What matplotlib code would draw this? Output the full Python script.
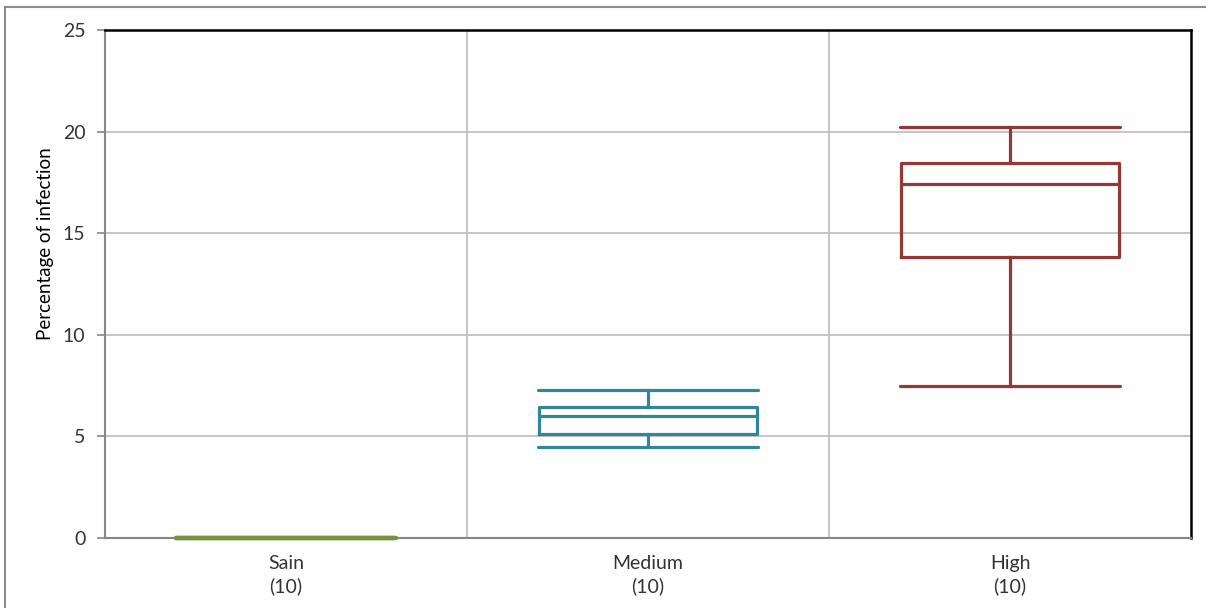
import matplotlib.pyplot as plt
from matplotlib.lines import Line2D

plt.rcParams['font.family'] = ['Lato', 'DejaVu Sans']

# 数据
categories = ['Sain', 'Medium', 'High']
counts = [10, 10, 10]
mins = [0.0, 4.5, 7.5]
q1s = [0.0, 5.1, 13.85]
medians = [0.0, 6.0, 17.4]
q3s = [0.0, 6.45, 18.45]
maxs = [0.0, 7.3, 20.25]
colors = ['#77933C', '#31859C', '#953735']
y_ticks = [0, 5, 10, 15, 20, 25]

fig = plt.figure(figsize=(12.11, 6.08), dpi=100)
ax = fig.add_axes([105 / 1211, 1 - 538 / 608, (1191 - 105) / 1211, (538 - 30) / 608])

stats = []
for i, cat in enumerate(categories):
    stats.append(dict(label=f'{cat}\n({counts[i]})', whislo=mins[i], q1=q1s[i],
                      med=medians[i], q3=q3s[i], whishi=maxs[i], fliers=[]))

for i, st in enumerate(stats):
    c = colors[i]
    lw = 2.3 if i > 0 else 3.0
    art = ax.bxp([st], positions=[i], widths=0.6, capwidths=0.61, showfliers=False,
                 boxprops=dict(color=c, linewidth=lw),
                 medianprops=dict(color=c, linewidth=lw),
                 whiskerprops=dict(color=c, linewidth=lw),
                 capprops=dict(color=c, linewidth=lw, solid_capstyle='round'))
    for key in ['boxes', 'medians', 'whiskers', 'caps']:
        for a in art[key]:
            a.set_clip_on(False)
            a.set_zorder(5)

ax.set_xlim(-0.5, 2.5)
ax.set_ylim(0, 25)
ax.set_yticks(y_ticks)
ax.set_xticks(range(len(categories)))
ax.set_xticklabels([f'{c}\n({n})' for c, n in zip(categories, counts)],
                   fontsize=14, color='#333333', linespacing=1.4)
ax.tick_params(axis='y', labelsize=14, labelcolor='#333333', color='#868686',
               length=6, width=1.2, pad=8)
ax.tick_params(axis='x', length=0, pad=12)

# 网格线
for y in y_ticks[1:-1]:
    ax.axhline(y, color='#C0C0C0', linewidth=1.3, zorder=0)
for x in [0.5, 1.5]:
    ax.axvline(x, color='#C0C0C0', linewidth=1.3, zorder=0)

ax.spines['left'].set_color('#868686')
ax.spines['left'].set_linewidth(1.5)
ax.spines['bottom'].set_color('#868686')
ax.spines['bottom'].set_linewidth(1.5)
ax.spines['top'].set_color('black')
ax.spines['top'].set_linewidth(1.8)
ax.spines['right'].set_color('black')
ax.spines['right'].set_linewidth(1.8)

ax.set_ylabel('Percentage of infection', fontsize=13.5, color='black')
ax.yaxis.set_label_coords(-0.047, 0.58)

# 外框
fig.add_artist(Line2D([5 / 1211, 5 / 1211], [0, 1 - 7 / 608], color='#8C8C8C',
                      linewidth=1.5, transform=fig.transFigure))
fig.add_artist(Line2D([5 / 1211, 1205 / 1211], [1 - 7 / 608, 1 - 7 / 608], color='#8C8C8C',
                      linewidth=1.5, transform=fig.transFigure))

fig.savefig('out.png', dpi=100)
